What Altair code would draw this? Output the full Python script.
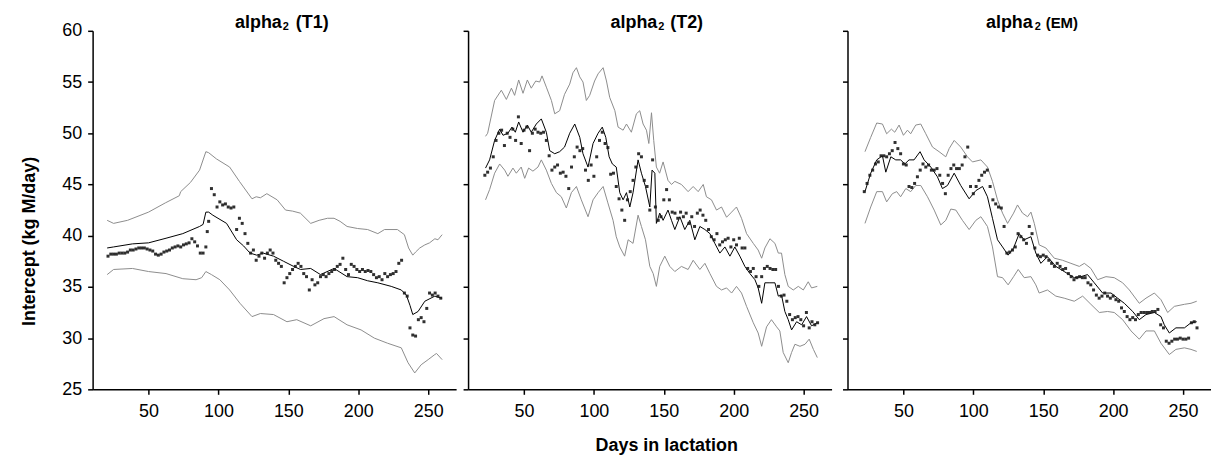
import altair as alt
import pandas as pd

FONT = "Liberation Sans"
GRAY = "#8c8c8c"

# ---------------- Panel 1: alpha2 (T1) ----------------
t1_up_days = [20.4, 25, 35, 50, 62, 72, 73, 80, 86.5, 91, 93, 98.5, 108, 115, 124, 127, 130, 134.6, 142, 148,
              153, 158.6, 166, 172, 178, 182.7, 187, 192, 199.5, 206.7, 214, 218.8, 228, 233, 236, 239, 241, 244,
              247.6, 251, 254.8, 257, 260]
t1_up_vals = [41.5, 41.2, 41.5, 42.3, 43.2, 43.9, 44.3, 45.2, 46.4, 48.2, 48.1, 47.5, 46.7, 45.3, 43.6, 43.8, 43.7,
              44.1, 43.5, 42.5, 42.4, 42.2, 41.2, 41.5, 41.7, 41.7, 41.4, 40.9, 40.7, 40.6, 40.2, 40.6, 40.6, 40.1,
              38.8, 38.1, 38.4, 38.8, 39.1, 39.3, 39.7, 39.6, 40.1]
t1_mean_days = [20.4, 25, 38.5, 50, 62.5, 74.5, 86.5, 89, 91, 93, 96, 105.8, 113, 118, 122.6, 127.4, 132, 139.4,
                146.6, 153.8, 158.7, 166, 173, 182.7, 192, 199.5, 206.7, 214, 223.6, 230.8, 234.4, 237, 239, 242.8,
                247.6, 254.8, 257, 260]
t1_mean_vals = [38.8, 38.9, 39.2, 39.3, 39.75, 40.2, 40.9, 41.1, 42.3, 42.3, 42.0, 41.2, 39.6, 39.0, 38.3, 38.1,
                38.3, 38.0, 37.5, 37.0, 36.7, 36.8, 36.2, 36.8, 36.0, 35.9, 35.6, 35.4, 35.05, 34.7, 34.2, 33.2,
                32.3, 32.6, 33.6, 34.1, 34.0, 33.9]
t1_lo_days = [20.4, 25, 38.5, 50, 62.5, 74.5, 84, 88, 91, 95, 101, 108, 115.4, 124, 130, 139.4, 149, 156, 166,
              175.5, 182.7, 192, 202, 211.5, 221, 230.8, 235.6, 240.4, 245, 250, 254.8, 256, 260]
t1_lo_vals = [36.2, 36.7, 36.8, 36.5, 36.3, 35.8, 35.7, 35.9, 36.5, 36.2, 35.7, 34.7, 33.4, 32.1, 32.4, 32.3, 31.6,
              31.8, 31.2, 31.9, 32.1, 31.3, 30.8, 30.0, 29.5, 29.05, 27.6, 26.6, 27.4, 27.9, 28.4, 28.5, 27.9]
t1_pt_days = [21, 23, 25, 27, 29, 31, 33, 35, 37, 39, 41, 43, 45, 47, 49, 51, 53, 55, 57, 59, 61, 63, 65, 67, 69,
              71, 73, 75, 77, 79, 81, 83, 85, 87, 89, 91, 92, 93, 95, 97, 99, 101, 103, 105, 107, 109, 111, 113,
              115, 117, 119, 121, 123, 125, 127, 129, 131, 133, 135, 137, 139, 141, 143, 145, 147, 149, 151, 153,
              155, 157, 159, 161, 163, 165, 167, 169, 171, 173, 175, 177, 179, 181, 183, 185, 187, 189, 191, 193,
              195, 197, 199, 201, 203, 205, 207, 209, 211, 213, 215, 217, 219, 221, 223, 225, 227, 229, 231, 233,
              235, 237, 239, 241, 243, 245, 247, 249, 251, 253, 255, 257, 259]
t1_pt_vals = [38.0, 38.2, 38.2, 38.2, 38.3, 38.3, 38.3, 38.4, 38.6, 38.6, 38.7, 38.8, 38.8, 38.8, 38.7, 38.6, 38.5,
              38.2, 38.1, 38.2, 38.4, 38.5, 38.6, 38.8, 38.9, 39.0, 38.9, 39.1, 39.2, 39.3, 39.7, 39.4, 39.0, 38.3,
              38.3, 38.9, 40.4, 41.4, 44.6, 44.0, 42.8, 43.3, 43.0, 43.1, 42.8, 42.7, 42.8, 40.6, 41.7, 41.2, 40.2,
              39.25, 38.3, 38.6, 37.6, 38.0, 38.3, 37.8, 38.3, 38.6, 38.3, 37.6, 37.3, 37.0, 35.4, 35.9, 36.3, 36.7,
              37.0, 37.3, 37.0, 36.3, 36.0, 34.7, 35.7, 35.2, 35.4, 36.0, 36.2, 36.0, 36.3, 36.5, 36.7, 37.0, 37.2,
              37.8, 36.7, 36.2, 37.2, 37.0, 36.7, 36.5, 36.7, 36.5, 36.6, 36.5, 36.2, 35.9, 36.0, 35.7, 36.3, 36.0,
              36.2, 36.3, 36.5, 37.3, 37.6, 34.4, 34.1, 31.0, 30.3, 30.2, 31.8, 32.0, 31.6, 32.9, 34.4, 34.2, 34.4,
              34.1, 33.9]

# ---------------- Panel 2: alpha2 (T2) ----------------
t2_up_days = [22.5, 24, 29, 33.8, 37.4, 41, 43.3, 46.2, 49.3, 52.4, 55.2, 58.4, 61.2, 62.9, 66, 69.6, 72, 75.5, 79,
              82.7, 85, 87.5, 89.9, 92.2, 94.6, 97, 100.5, 103, 106.6, 109, 111.3, 115, 117.3, 120.9, 123.3, 126.8,
              130.4, 132.8, 135.2, 137.6, 139.3, 141.2, 142.8, 144.7, 147, 149.5, 153, 155.5, 157.9, 162.6, 167.4,
              171, 174.6, 178.2, 180.5, 184.1, 187.7, 191.3, 194.9, 198.5, 202, 205.6, 209.2, 214, 217.5, 220,
              222.3, 225.9, 229.5, 231.9, 234.2, 236.6, 239, 242.6, 246.2, 249.8, 253.3, 255.7, 259.8]
t2_up_vals = [49.7, 50.0, 53.2, 54.2, 53.3, 54.4, 53.7, 55.2, 53.9, 55.2, 54.4, 55.1, 55.0, 55.6, 54.5, 53.2, 51.9,
              52.2, 53.8, 54.8, 55.9, 56.4, 55.5, 55.0, 53.2, 53.7, 55.1, 55.8, 56.4, 55.1, 53.5, 52.2, 50.6, 50.3,
              50.9, 50.1, 51.9, 52.2, 50.9, 50.3, 49.0, 52.0, 49.3, 46.7, 46.1, 47.2, 45.4, 45.0, 45.3, 45.0, 44.3,
              44.8, 44.3, 45.0, 43.8, 43.5, 42.5, 42.8, 41.8, 42.3, 42.8, 41.7, 40.2, 39.25, 38.6, 37.8, 38.8, 39.7,
              39.25, 38.3, 38.3, 36.2, 35.05, 34.7, 35.05, 34.7, 35.5, 34.9, 35.05]
t2_mean_days = [22.5, 25.4, 29, 32.6, 35, 38.5, 41.4, 43.8, 46.2, 49.3, 52.4, 55.2, 58.8, 62.4, 66, 68.4, 72, 75.5,
                79, 82.7, 86.3, 89.9, 92.2, 95.8, 99.4, 103, 106, 108.5, 110.9, 113.2, 116, 118.5, 120.9, 123.3,
                125.7, 128, 131.6, 134, 136.9, 140, 141.6, 143.6, 144.7, 147.1, 149.5, 153, 155.5, 157.9, 161.5, 165,
                168.6, 172.2, 175.8, 179.4, 183, 186.5, 190.1, 193.7, 197.3, 200.8, 204.4, 208, 211.6, 215.2, 217.5,
                220, 222.3, 225.9, 229.5, 231.9, 234.2, 236.6, 239, 241.4, 245, 248.6, 252.1, 255.7, 259.8]
t2_mean_vals = [46.6, 47.4, 49.3, 50.4, 49.8, 50.0, 50.6, 50.1, 51.1, 50.1, 50.8, 50.1, 50.9, 51.4, 50.1, 48.3,
                48.0, 48.2, 48.65, 50.0, 50.9, 49.6, 48.0, 46.7, 49.0, 50.0, 50.6, 49.6, 47.7, 47.0, 46.7, 44.2,
                43.5, 44.2, 42.8, 44.2, 47.4, 46.1, 44.8, 42.8, 46.4, 46.1, 41.2, 42.2, 41.5, 42.5, 41.5, 40.6,
                41.85, 40.6, 41.5, 39.6, 40.9, 40.6, 40.2, 39.25, 38.3, 38.9, 38.0, 38.9, 38.0, 37.0, 36.3, 35.7,
                34.9, 33.4, 35.4, 35.4, 35.4, 34.1, 34.2, 32.6, 31.8, 30.8, 31.6, 31.3, 32.1, 31.2, 31.5]
t2_lo_days = [22.5, 25.4, 29, 32.6, 36.2, 38.5, 42.1, 44.5, 48, 50.5, 53.3, 56.4, 60, 62.4, 66, 69.6, 73.2, 76.7,
              80.3, 83.9, 87.5, 91, 95.8, 99.4, 103, 106.6, 110, 113.7, 116, 118.5, 122, 124.5, 128, 131.6, 134,
              136.9, 140, 142.4, 144.7, 147.1, 150.7, 154.3, 157.9, 162.6, 167.4, 171, 175.8, 179.4, 183, 187.7,
              191.3, 194.9, 198.5, 202, 205.6, 209.2, 214, 217.5, 220, 223.5, 227, 230.7, 233, 235.4, 239, 241.4,
              243.8, 247.4, 251, 254, 257, 259.8]
t2_lo_vals = [43.5, 44.5, 46.1, 47.0, 46.4, 45.8, 46.6, 46.1, 46.7, 45.6, 46.6, 46.3, 46.7, 47.4, 46.4, 45.1, 44.2,
              43.8, 42.7, 44.2, 44.8, 43.5, 41.85, 43.5, 44.2, 44.8, 43.2, 41.5, 39.9, 38.9, 38.0, 39.6, 39.25,
              42.0, 40.9, 39.6, 37.0, 36.3, 35.05, 37.0, 38.0, 37.0, 36.5, 37.0, 36.7, 37.6, 36.7, 37.3, 36.3,
              35.05, 34.7, 34.9, 34.4, 35.05, 34.4, 33.1, 31.5, 30.5, 29.2, 31.1, 31.8, 31.1, 30.7, 28.6, 27.6,
              28.6, 29.4, 29.2, 29.4, 29.9, 28.9, 28.1]
t2_pt_days = list(range(22, 261, 2))
t2_pt_vals = [45.9, 46.2, 46.6, 47.7, 49.3, 50.0, 50.3, 48.8, 50.0, 49.6, 50.4, 49.3, 51.6, 49.0, 50.3, 50.6, 48.3,
              50.0, 50.4, 50.1, 50.0, 50.1, 49.3, 47.8, 46.4, 46.7, 46.9, 46.1, 46.2, 45.8, 44.6, 46.7, 47.7, 48.65,
              48.3, 48.5, 46.4, 45.4, 46.9, 45.8, 47.7, 49.3, 50.1, 49.0, 48.6, 46.0, 46.1, 44.8, 43.6, 42.5, 41.5,
              43.5, 44.3, 45.4, 46.7, 48.0, 47.7, 45.4, 44.8, 42.5, 47.4, 42.8, 41.5, 41.85, 43.5, 44.5, 43.5, 42.3,
              42.2, 41.7, 42.3, 41.85, 42.2, 41.2, 41.85, 40.9, 42.2, 42.5, 42.0, 41.5, 40.6, 39.9, 39.6, 40.2,
              39.1, 39.4, 39.6, 39.75, 38.9, 39.6, 39.1, 39.75, 38.8, 38.8, 36.8, 36.5, 36.8, 36.0, 35.05, 36.0,
              36.8, 37.0, 36.8, 36.7, 36.7, 35.05, 34.1, 34.2, 33.6, 32.3, 31.8, 32.0, 32.1, 31.8, 31.2, 32.5,
              31.0, 31.6, 31.3, 31.5]

# ---------------- Panel 3: alpha2 (EM) ----------------
em_up_days = [22.5, 26.6, 30.9, 35, 38, 41.4, 43.8, 46.9, 50, 52.9, 55.2, 58.8, 62.4, 66, 70.8, 75.5, 80.3, 82.7,
              86.3, 91, 95.8, 99.4, 105.4, 110.1, 113.7, 117.3, 120.9, 124.5, 128.8, 131.6, 135.2, 138.8, 141.2,
              143.6, 147.1, 151.9, 157.9, 163.8, 169.8, 175.8, 179.4, 184.1, 188.9, 194.9, 200.8, 206.8, 211.6,
              218.7, 223.5, 229.5, 234.2, 239, 243.8, 251, 255.7, 259.8]
em_up_vals = [48.2, 49.6, 51.0, 50.9, 49.95, 50.4, 50.1, 50.8, 49.8, 50.3, 49.95, 50.8, 50.9, 49.95, 48.65, 48.2,
              47.7, 48.5, 49.3, 48.65, 47.7, 47.2, 47.4, 46.7, 45.3, 43.5, 42.2, 41.2, 42.2, 43.0, 42.2, 41.85, 42.3,
              41.2, 39.1, 38.8, 37.8, 37.6, 37.3, 37.0, 37.3, 36.8, 35.7, 36.0, 35.9, 35.4, 34.7, 33.4, 33.9, 34.4,
              33.75, 32.5, 33.1, 33.3, 33.4, 33.6]
em_mean_days = [22.5, 26.6, 30.9, 35, 37.4, 41, 44.5, 48, 51, 54, 57.6, 61.9, 64.8, 69.6, 74.3, 77.9, 81.5, 86.3,
                91, 97, 101.8, 106.6, 110.1, 113.7, 117.3, 120.9, 124.9, 128.8, 132.8, 136.4, 141.2, 144.7, 148.3,
                153, 159, 165, 172.2, 177, 181.7, 186.5, 192.5, 198.5, 203.2, 208, 214, 218.7, 223.5, 229.5, 234.2,
                236.6, 240.2, 244.9, 251, 255.7, 259.8]
em_mean_vals = [44.3, 46.1, 47.4, 47.8, 46.2, 47.7, 47.4, 47.4, 47.0, 47.4, 47.4, 48.2, 47.4, 46.7, 45.75, 44.6,
                44.9, 46.1, 44.9, 43.6, 44.4, 44.8, 43.8, 41.7, 39.6, 38.9, 38.1, 38.8, 40.2, 39.6, 39.9, 38.3, 37.3,
                37.95, 37.0, 36.5, 35.9, 36.0, 36.2, 35.4, 34.4, 34.4, 33.9, 33.4, 32.6, 31.8, 32.3, 32.5, 32.1,
                31.3, 30.5, 31.0, 31.0, 31.5, 31.6]
em_lo_days = [22.5, 26.6, 30.9, 35, 38, 42.1, 45.2, 48, 51.7, 55.2, 58.8, 62.4, 67.2, 72, 76.7, 80.3, 83.9, 87.5,
              92.2, 97, 101.8, 105.4, 110.1, 113.7, 117.3, 120.9, 124.9, 128.8, 132.1, 136.4, 141.2, 144.7, 147.1,
              153, 159, 165, 172.2, 178.2, 184.1, 190.1, 196, 200.8, 206.8, 212.8, 218.7, 223.5, 229.5, 234.2,
              240.2, 244.9, 251, 255.7, 259.8]
em_lo_vals = [41.2, 42.8, 44.3, 44.3, 43.3, 44.1, 44.3, 43.8, 44.6, 44.3, 44.9, 44.9, 43.8, 42.5, 41.05, 41.5, 42.6,
              42.5, 41.5, 40.6, 41.5, 41.85, 40.9, 38.9, 36.0, 35.9, 35.2, 36.0, 36.7, 35.9, 36.0, 35.2, 34.4, 34.7,
              34.1, 33.9, 33.6, 34.1, 33.3, 32.5, 32.6, 32.5, 31.8, 30.7, 29.9, 30.7, 30.7, 29.5, 28.4, 28.9, 29.05,
              28.9, 28.7]
em_pt_days = list(range(22, 261, 2))
em_pt_vals = [44.3, 45.1, 45.9, 46.4, 47.0, 47.2, 47.8, 47.8, 47.7, 48.0, 48.3, 49.1, 48.5, 48.0, 47.0, 46.9, 44.8,
              44.7, 45.1, 45.75, 46.4, 47.0, 46.7, 46.9, 46.4, 46.4, 46.55, 45.9, 45.1, 44.1, 45.9, 46.55, 46.9,
              46.55, 46.55, 46.9, 47.7, 48.65, 44.8, 44.1, 44.8, 45.4, 45.9, 46.2, 46.4, 44.8, 43.5, 43.1, 42.8,
              42.7, 40.9, 38.3, 38.4, 38.6, 38.9, 40.2, 39.9, 39.6, 39.25, 40.9, 40.2, 38.8, 38.1, 37.95, 38.1,
              37.95, 37.6, 37.3, 37.0, 37.3, 37.0, 36.7, 36.8, 36.3, 36.0, 35.7, 35.9, 36.0, 35.9, 35.9, 35.4, 35.2,
              34.7, 34.2, 33.9, 34.1, 34.4, 34.1, 33.9, 34.1, 33.75, 33.6, 32.95, 32.6, 32.1, 31.8, 32.0, 31.8,
              32.3, 32.5, 32.5, 32.5, 32.5, 32.6, 32.6, 32.8, 31.3, 31.0, 29.7, 29.5, 29.7, 29.9, 29.9, 30.0, 29.9,
              29.9, 30.0, 31.5, 31.6, 31.0]

x_ticks = [50, 100, 150, 200, 250]
y_ticks = [25, 30, 35, 40, 45, 50, 55, 60]

# panel title pieces: (text, font size, align, x offset from plot left, baseline y offset)
titles_t1 = [("alpha", 18, "right", 190, -3), ("2", 11, "left", 191, -1), ("(T1)", 18, "left", 204, -3)]
titles_t2 = [("alpha", 18, "right", 190, -3), ("2", 11, "left", 191, -1), ("(T2)", 18, "left", 203, -3)]
titles_em = [("alpha", 18, "right", 186, -3), ("2", 11, "left", 188, -1), ("(EM)", 15, "left", 199, -3)]


def panel(titles, up, mean, lo, pts, show_y, show_xtitle):
    x_axis = dict(values=x_ticks, grid=False, tickSize=5, tickColor="black", domainColor="black",
                  domainWidth=1.5, tickWidth=1.5, labelFontSize=18, labelFont=FONT, labelColor="black",
                  labelPadding=8, labelFlush=False)
    if show_xtitle:
        x_axis.update(title="Days in lactation", titleFontSize=18, titleFont=FONT, titleFontWeight="bold",
                      titleColor="black", titlePadding=16, titleX=199)
    else:
        x_axis.update(title=None)
    y_axis = dict(values=y_ticks, grid=False, tickSize=5, tickColor="black", domainColor="black",
                  domainWidth=1.5, tickWidth=1.5, labelFontSize=18, labelFont=FONT, labelColor="black",
                  labelPadding=6, labelFlush=False)
    if show_y:
        y_axis.update(title="Intercept (kg M/day)", titleFontSize=18, titleFont=FONT, titleFontWeight="bold",
                      titleColor="black", titlePadding=23, titleY=211)
    else:
        y_axis.update(title=None, labels=False)

    x = alt.X("day:Q", scale=alt.Scale(domain=[10, 270], nice=False, zero=False), axis=alt.Axis(**x_axis))
    y = alt.Y("val:Q", scale=alt.Scale(domain=[25, 60], nice=False, zero=False), axis=alt.Axis(**y_axis))

    df_up = pd.DataFrame({"day": up[0], "val": up[1]})
    df_mean = pd.DataFrame({"day": mean[0], "val": mean[1]})
    df_lo = pd.DataFrame({"day": lo[0], "val": lo[1]})
    df_pt = pd.DataFrame({"day": pts[0], "val": pts[1]})

    l_up = alt.Chart(df_up).mark_line(color=GRAY, strokeWidth=1).encode(x=x, y=y)
    l_lo = alt.Chart(df_lo).mark_line(color=GRAY, strokeWidth=1).encode(x=x, y=y)
    l_mean = alt.Chart(df_mean).mark_line(color="black", strokeWidth=1).encode(x=x, y=y)
    p = alt.Chart(df_pt).mark_square(size=9, color="#1a1a1a", opacity=0.9).encode(x=x, y=y)

    layers = [l_up, l_lo, l_mean, p]
    for txt, size, align, xoff, yoff in titles:
        layers.append(
            alt.Chart(pd.DataFrame({"t": [txt]})).mark_text(
                font=FONT, fontSize=size, fontWeight="bold", color="black", align=align,
                baseline="alphabetic",
            ).encode(text="t:N", x=alt.value(xoff), y=alt.value(yoff))
        )
    return alt.layer(*layers).properties(width=365, height=360)


p1 = panel(titles_t1, (t1_up_days, t1_up_vals), (t1_mean_days, t1_mean_vals),
           (t1_lo_days, t1_lo_vals), (t1_pt_days, t1_pt_vals), True, False)
p2 = panel(titles_t2, (t2_up_days, t2_up_vals), (t2_mean_days, t2_mean_vals),
           (t2_lo_days, t2_lo_vals), (t2_pt_days, t2_pt_vals), False, True)
p3 = panel(titles_em, (em_up_days, em_up_vals), (em_mean_days, em_mean_vals),
           (em_lo_days, em_lo_vals), (em_pt_days, em_pt_vals), False, False)

chart = alt.hconcat(alt.hconcat(p1, p2, spacing=6), p3, spacing=10).properties(
    padding={"left": 20, "top": 13, "right": 0, "bottom": 0},
    background="white",
).configure_view(stroke=None)

chart.save("out.html", embed_options={"renderer": "svg", "actions": False})
